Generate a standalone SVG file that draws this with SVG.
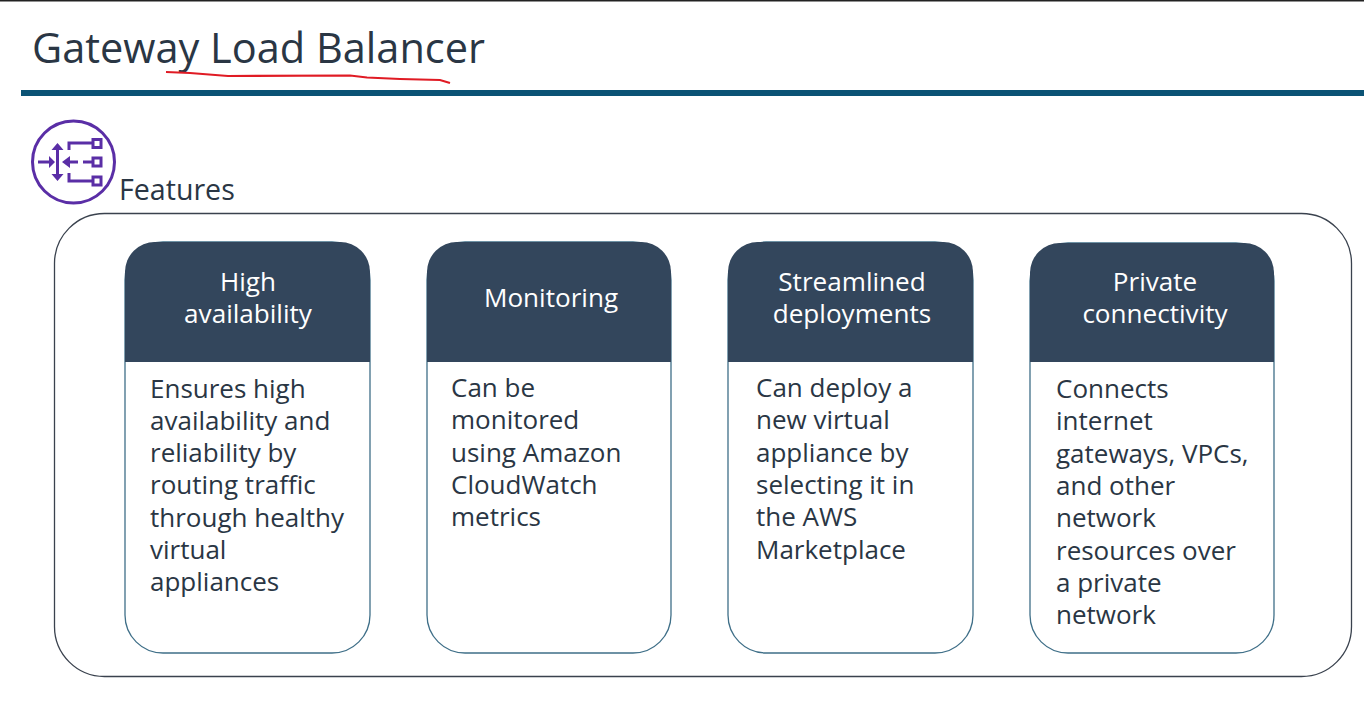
<svg xmlns="http://www.w3.org/2000/svg" width="1364" height="712" viewBox="0 0 1364 712">
<style>
text{font-family:"Open Sans","Noto Sans",sans-serif;fill:#2a3644}
.h{font-size:26.100px;fill:#fff;text-anchor:middle}
.b{font-size:26px}
.card{fill:#fff;stroke:#3f6f88;stroke-width:1.300}
.head{fill:#33465c}
.i{fill:none;stroke:#5a2ea6;stroke-width:3}
.a{fill:#5a2ea6}
</style>
<rect width="1364" height="712" fill="#fff"/>
<rect width="1364" height="1.500" fill="#222"/>
<text x="32" y="63" font-size="41.500">Gateway Load Balancer</text>
<rect x="21" y="90" width="1343" height="6" fill="#0b5375"/>
<path d="M166 72L190 73L228 76L350 75.500L367 77.500L400 79L440 80L450 83" fill="none" stroke="#e01b24" stroke-width="2.200"/>
<g id="icon">
<circle class="i" cx="73.500" cy="162" r="41"/>
<path class="i" d="M38 162H50M57.500 148V176M78 162H66M83 162H92M92 143H69V150M69 173V181H92"/>
<path class="a" d="M49 156l6 6-6 6ZM57.500 143l-6 7h12ZM57.500 181l-6-7h12ZM70 156l-8 6 8 6Z"/>
<rect class="i" x="93" y="139.500" width="8" height="8"/><rect class="i" x="93" y="158" width="8" height="8"/><rect class="i" x="93" y="177" width="8" height="8"/>
</g>
<text x="119" y="200" font-size="28.600">Features</text>
<rect x="54.500" y="213.500" width="1297" height="463" rx="50" fill="none" stroke="#3a424e" stroke-width="1.300"/>
<g id="card1"><rect class="card" x="125" y="242" width="245" height="411" rx="38"/><path class="head" d="M125 362V272a30 30 0 0 1 30-30H340a30 30 0 0 1 30 30V362Z"/>
<text class="h"><tspan x="248" y="291">High</tspan><tspan x="248" y="323">availability</tspan></text>
<text class="b"><tspan x="150" y="398">Ensures high</tspan><tspan x="150" y="430">availability and</tspan><tspan x="150" y="462">reliability by</tspan><tspan x="150" y="494">routing traffic</tspan><tspan x="150" y="527">through healthy</tspan><tspan x="150" y="559">virtual</tspan><tspan x="150" y="591">appliances</tspan></text></g>
<g id="card2"><rect class="card" x="427" y="242" width="244" height="411" rx="38"/><path class="head" d="M427 362V272a30 30 0 0 1 30-30H641a30 30 0 0 1 30 30V362Z"/>
<text class="h" x="551" y="307">Monitoring</text>
<text class="b"><tspan x="451" y="397">Can be</tspan><tspan x="451" y="429">monitored</tspan><tspan x="451" y="462">using Amazon</tspan><tspan x="451" y="494">CloudWatch</tspan><tspan x="451" y="526">metrics</tspan></text></g>
<g id="card3"><rect class="card" x="728" y="242" width="245" height="411" rx="38"/><path class="head" d="M728 362V272a30 30 0 0 1 30-30H943a30 30 0 0 1 30 30V362Z"/>
<text class="h"><tspan x="852" y="291">Streamlined</tspan><tspan x="852" y="323">deployments</tspan></text>
<text class="b"><tspan x="756" y="397">Can deploy a</tspan><tspan x="756" y="429">new virtual</tspan><tspan x="756" y="462">appliance by</tspan><tspan x="756" y="494">selecting it in</tspan><tspan x="756" y="526">the AWS</tspan><tspan x="756" y="559">Marketplace</tspan></text></g>
<g id="card4"><rect class="card" x="1030" y="243" width="244" height="410" rx="38"/><path class="head" d="M1030 362V273a30 30 0 0 1 30-30H1244a30 30 0 0 1 30 30V362Z"/>
<text class="h"><tspan x="1155" y="291">Private</tspan><tspan x="1155" y="323">connectivity</tspan></text>
<text class="b"><tspan x="1056" y="398">Connects</tspan><tspan x="1056" y="430">internet</tspan><tspan x="1056" y="463">gateways, VPCs,</tspan><tspan x="1056" y="495">and other</tspan><tspan x="1056" y="527">network</tspan><tspan x="1056" y="560">resources over</tspan><tspan x="1056" y="592">a private</tspan><tspan x="1056" y="624">network</tspan></text></g>
</svg>
